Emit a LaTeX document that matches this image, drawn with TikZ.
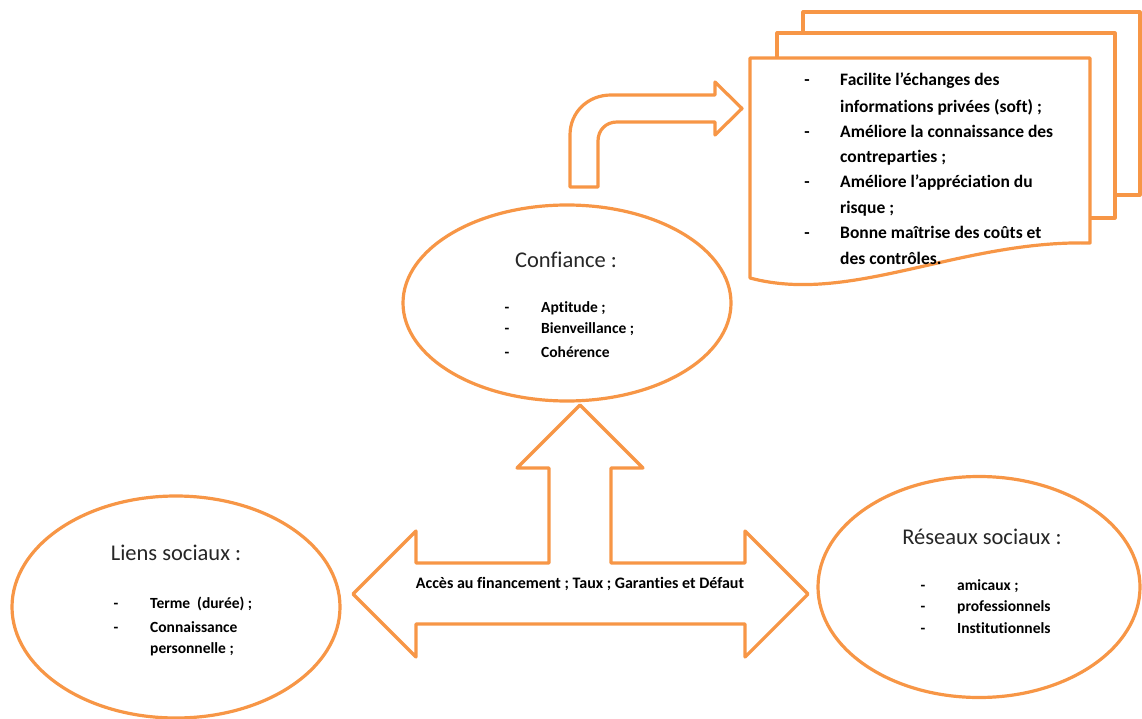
\documentclass[tikz,border=0pt]{standalone}
\usepackage{fontspec}
\setmainfont{Carlito}[Ligatures=NoCommon]
\usetikzlibrary{shapes.geometric}
\definecolor{acc}{RGB}{247,150,70}
\begin{document}
\begin{tikzpicture}[x=1pt,y=-1pt,
  shp/.style={draw=acc,line width=3.2pt,line join=round,fill=white},
  ell/.style={shp,ellipse,inner sep=0pt},
  ttl/.style={font=\fontsize{22.5}{26}\selectfont,text=black!85,anchor=base,inner sep=0pt},
  itm/.style={font=\fontsize{15.5}{18}\selectfont\bfseries,anchor=base west,inner sep=0pt},
  dsh/.style={font=\fontsize{15.5}{18}\selectfont\bfseries,anchor=base,inner sep=0pt},
  dtx/.style={font=\fontsize{17.5}{21}\selectfont\bfseries,anchor=base west,inner sep=0pt},
  ddsh/.style={font=\fontsize{17.5}{21}\selectfont\bfseries,anchor=base,inner sep=0pt},
]
\useasboundingbox (0,0) rectangle (1142,719);

% ---- multidocument ----
\draw[shp] (803,12) -- (1140,12) -- (1140,195) -- (803,195) -- cycle;
\draw[shp] (777,33) -- (1115,33) -- (1115,218) -- (777,218) -- cycle;
\draw[shp] (750,58) -- (1090,58) -- (1090,243)
  .. controls (960,240) and (850,305) .. (750,278) -- cycle;

\node[ddsh] (d1) at (807,86) {-};
\node[dtx] (t1) at (840,86) {Facilite l’échanges des};
\node[dtx] (t2) at (840,113) {informations privées (soft) ;};
\node[ddsh] (d2) at (807,138) {-};
\node[dtx] (t3) at (840,138) {Améliore la connaissance des};
\node[dtx] (t4) at (840,163) {contreparties ;};
\node[ddsh] (d3) at (807,188) {-};
\node[dtx] (t5) at (840,188) {Améliore l’appréciation du};
\node[dtx] (t6) at (840,214) {risque ;};
\node[ddsh] (d4) at (807,239) {-};
\node[dtx] (t7) at (840,239) {Bonne maîtrise des coûts et};
\node[dtx] (t8) at (840,264) {des contrôles.};

% ---- bent arrow ----
\draw[shp] (570,187) -- (570,135) .. controls (570,112) and (588,95) .. (611,95)
  -- (715,95) -- (715,82) -- (742,108.5) -- (715,135) -- (715,122) -- (617,122)
  .. controls (606,122) and (598,130) .. (598,141) -- (598,187) -- cycle;

% ---- ellipses ----
\node[ell,minimum width=328pt,minimum height=196pt] (conf) at (567,303) {};
\node[ell,minimum width=328pt,minimum height=222pt] (liens) at (176,607) {};
\node[ell,minimum width=322pt,minimum height=221pt] (reseaux) at (979,587) {};

% ---- three-way arrow ----
\draw[shp] (580,405) -- (643,468) -- (611,468) -- (611,563) -- (745,563) -- (745,531)
  -- (808,594) -- (745,657) -- (745,624) -- (416,624) -- (416,657) -- (353,594)
  -- (416,531) -- (416,563) -- (549,563) -- (549,468) -- (517,468) -- cycle;
\node[font=\fontsize{16}{19}\selectfont\bfseries,anchor=base,inner sep=0pt] (lab) at (580,588)
  {Accès au financement ; Taux ; Garanties et Défaut};

% ---- Confiance ----
\node[ttl] (ct) at (566,267) {Confiance :};
\node[dsh] (c1) at (507,312) {-};
\node[itm] (c1t) at (541,312) {Aptitude ;};
\node[dsh] (c2) at (507,333) {-};
\node[itm] (c2t) at (541,333) {Bienveillance ;};
\node[dsh] (c3) at (507,357) {-};
\node[itm] (c3t) at (541,357) {Cohérence};

% ---- Liens sociaux ----
\node[ttl] (lt) at (176,560) {Liens sociaux :};
\node[dsh] (l1) at (116,608) {-};
\node[itm] (l1t) at (150,608) {Terme~ (durée) ;};
\node[dsh] (l2) at (116,632) {-};
\node[itm] (l2t) at (150,632) {Connaissance};
\node[itm] (l3t) at (150,653) {personnelle ;};

% ---- Réseaux sociaux ----
\node[ttl] (rt) at (982,544) {Réseaux sociaux :};
\node[dsh] (r1) at (923,590) {-};
\node[itm] (r1t) at (957,590) {amicaux ;};
\node[dsh] (r2) at (923,611) {-};
\node[itm] (r2t) at (957,611) {professionnels};
\node[dsh] (r3) at (923,633) {-};
\node[itm] (r3t) at (957,633) {Institutionnels};
\end{tikzpicture}
\end{document}
